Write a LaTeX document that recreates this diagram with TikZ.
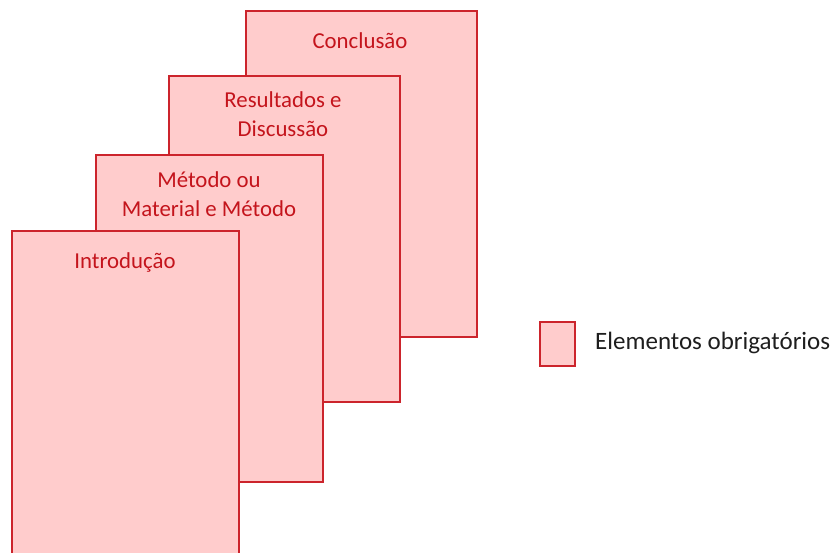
\documentclass[tikz,border=0pt]{standalone}
\usepackage{fontspec}
\setmainfont{Carlito}
\definecolor{pagefill}{RGB}{255,204,204}
\definecolor{pageline}{RGB}{204,36,44}
\definecolor{pagetext}{RGB}{196,20,28}
\definecolor{legtext}{RGB}{30,30,30}
\begin{document}
\begin{tikzpicture}[x=1pt,y=-1pt,
  page/.style={draw=pageline,fill=pagefill,line width=2pt,anchor=north west,inner sep=0pt},
  ptext/.style={text=pagetext,font=\fontsize{22.8}{29}\selectfont,align=center,inner sep=0pt},
  ltext/.style={text=legtext,font=\fontsize{25}{30}\selectfont,anchor=west,inner sep=0pt}]
\useasboundingbox (0,0) rectangle (837,553);
\clip (0,0) rectangle (837,553);
\node[page,minimum width=231pt,minimum height=326pt] (concl) at (245,10) {};
\node[page,minimum width=231pt,minimum height=326pt] (resul) at (168,75) {};
\node[page,minimum width=227pt,minimum height=327pt] (metod) at (95,154) {};
\node[page,minimum width=227pt,minimum height=340pt] (intro) at (11,230) {};
\node[ptext] (tconcl) at (360,41) {Conclusão};
\node[ptext] (tresul) at (283,114.5) {Resultados e\\Discussão};
\node[ptext] (tmetod) at (209,194.5) {Método ou\\Material e Método};
\node[ptext] (tintro) at (125,262) {Introdução};
\node[page,minimum width=35pt,minimum height=44pt] (leg) at (539,321) {};
\node[ltext] (tleg) at (595,343) {Elementos obrigatórios};
\end{tikzpicture}
\end{document}
